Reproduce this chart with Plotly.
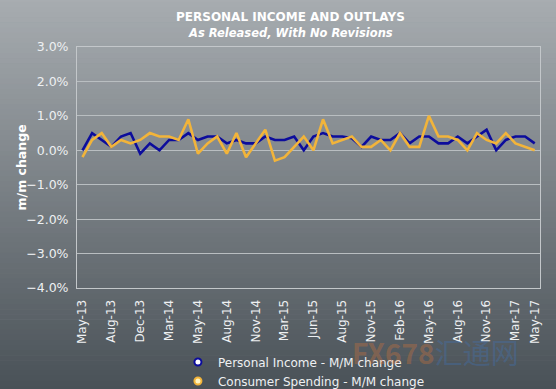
import plotly.graph_objects as go

# ---------------- data ----------------
tick_labels = ["May-13", "Aug-13", "Dec-13", "Mar-14", "May-14", "Aug-14", "Nov-14",
               "Mar-15", "Jun-15", "Aug-15", "Nov-15", "Feb-16", "May-16", "Aug-16",
               "Nov-16", "Mar-17", "May-17"]

personal_income = [0.0, 0.5, 0.3, 0.1, 0.4, 0.5, -0.1, 0.2, 0.0, 0.3, 0.3, 0.5,
                   0.3, 0.4, 0.4, 0.2, 0.3, 0.2, 0.2, 0.4, 0.3, 0.3, 0.4, 0.0,
                   0.4, 0.5, 0.4, 0.4, 0.35, 0.1, 0.4, 0.3, 0.3, 0.5, 0.2, 0.4,
                   0.4, 0.2, 0.2, 0.4, 0.2, 0.4, 0.6, 0.0, 0.3, 0.4, 0.4, 0.2]

consumer_spending = [-0.2, 0.3, 0.5, 0.1, 0.3, 0.2, 0.3, 0.5, 0.4, 0.4, 0.3, 0.9,
                     -0.1, 0.2, 0.4, -0.1, 0.5, -0.2, 0.2, 0.6, -0.3, -0.2, 0.1, 0.4,
                     0.0, 0.9, 0.2, 0.3, 0.4, 0.1, 0.1, 0.3, 0.0, 0.5, 0.1, 0.1,
                     1.0, 0.4, 0.4, 0.3, 0.0, 0.5, 0.3, 0.2, 0.5, 0.2, 0.1, 0.0]

n = len(personal_income)
x_idx = list(range(n))
tick_idx = list(range(0, n - 2, 3)) + [n - 1]

BLUE = "#0c0c9c"
GOLD = "#f2b43a"

fig = go.Figure()

# gradient background (styling bands)
top = (170, 175, 179)
bot = (72, 80, 86)
bands = 80
y_top, y_bot = 1.25, -0.45
for i in range(bands):
    t = i / (bands - 1)
    c = tuple(int(round(top[k] + (bot[k] - top[k]) * t)) for k in range(3))
    y1 = y_top - (y_top - y_bot) * i / bands
    y0 = y_top - (y_top - y_bot) * (i + 1) / bands
    fig.add_shape(type="rect", xref="paper", yref="paper", x0=-0.3, x1=1.2,
                  y0=y0 - 0.001, y1=y1 + 0.001, fillcolor="rgb(%d,%d,%d)" % c,
                  line=dict(width=0), layer="below")

fig.add_trace(go.Scatter(x=x_idx, y=personal_income, mode="lines",
                         line=dict(color=BLUE, width=2.6), showlegend=False,
                         name="Personal Income - M/M change"))
fig.add_trace(go.Scatter(x=x_idx, y=consumer_spending, mode="lines",
                         line=dict(color=GOLD, width=2.6), showlegend=False,
                         name="Consumer Spending - M/M change"))

# legend entries (marker-only symbols as in the reference)
fig.add_trace(go.Scatter(x=[None], y=[None], mode="markers",
                         marker=dict(size=7, color="#ffffff", line=dict(color=BLUE, width=2)),
                         name="Personal Income - M/M change"))
fig.add_trace(go.Scatter(x=[None], y=[None], mode="markers",
                         marker=dict(size=7, color="#fff4c0", line=dict(color=GOLD, width=2)),
                         name="Consumer Spending - M/M change"))

FONT = "DejaVu Sans"
TXT = "#eef0f2"

fig.update_layout(
    width=556, height=389,
    margin=dict(l=77, r=16, t=47, b=101, autoexpand=False),
    paper_bgcolor="#8a9095",
    plot_bgcolor="rgba(0,0,0,0)",
    font=dict(family=FONT, color=TXT, size=12),
    showlegend=True,
    legend=dict(x=0.218, xanchor="left", y=-0.247, yanchor="top",
                bgcolor="rgba(0,0,0,0)", font=dict(size=12, color=TXT),
                tracegroupgap=0, itemwidth=30),
    xaxis=dict(range=[-0.57, n - 1 + 0.55], tickmode="array", tickvals=tick_idx,
               ticktext=tick_labels, tickangle=-90, showgrid=False, zeroline=False,
               showline=True, linecolor="#c3c7ca", linewidth=1, mirror=True,
               ticks="", ticklabelstandoff=6, tickfont=dict(size=12, color=TXT)),
    yaxis=dict(range=[-4, 3], dtick=1, tickformat=".1f", ticksuffix="%",
               showgrid=True, gridcolor="#b9bec1", gridwidth=1, zeroline=False,
               showline=True, linecolor="#c3c7ca", linewidth=1, mirror=True,
               ticks="", ticklabelstandoff=5, tickfont=dict(size=12.5, color=TXT)),
    annotations=[
        dict(text="<span style='color:rgba(235,120,50,0.30)'><b>FX678</b></span>"
                  "<span style='color:rgba(60,120,200,0.30)'>汇通网</span>",
             xref="paper", yref="paper", x=0.775, y=-0.265, xanchor="center",
             yanchor="middle", showarrow=False,
             font=dict(size=28, family="Noto Sans CJK SC")),
        dict(text="<b>PERSONAL INCOME AND OUTLAYS</b>", xref="paper", yref="paper",
             x=0.462, y=1.125, xanchor="center", yanchor="middle", showarrow=False,
             font=dict(size=12, color="#ffffff", family=FONT)),
        dict(text="<b><i>As Released, With No Revisions</i></b>", xref="paper", yref="paper",
             x=0.462, y=1.06, xanchor="center", yanchor="middle", showarrow=False,
             font=dict(size=11.5, color="#ffffff", family=FONT)),
        dict(text="<b>m/m change</b>", xref="paper", yref="paper",
             x=-0.119, y=0.5, xanchor="center", yanchor="middle", textangle=-90,
             showarrow=False, font=dict(size=12.5, color="#ffffff", family=FONT)),
    ],
)

fig.write_html("out.html", config={"displayModeBar": False},
               post_script="document.body.style.margin='0';document.body.style.overflow='hidden';")
